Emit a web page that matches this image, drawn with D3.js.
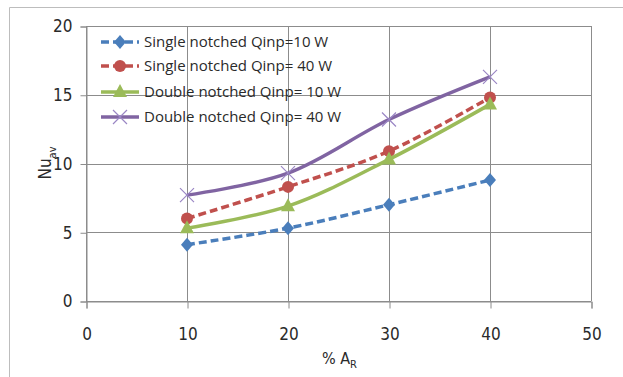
<!DOCTYPE html>
<html>
<head>
<meta charset="utf-8">
<script src="https://cdn.jsdelivr.net/npm/d3@7"></script>
<style>
  html, body { margin: 0; padding: 0; background: #fff; }
  svg { display: block; }
  text { font-family: "DejaVu Sans Condensed", "Open Sans", Arial, sans-serif; fill: #2a2a2a; }
</style>
</head>
<body>
<svg id="chart" width="623" height="377"></svg>
<script>
// Area ratio (%) on the x axis
const areaRatio = [10, 20, 30, 40];
// Average Nusselt number per configuration
const singleQ10 = [4.1, 5.3, 7.0, 8.8];
const singleQ40 = [6.0, 8.3, 10.9, 14.8];
const doubleQ10 = [5.3, 6.9, 10.3, 14.3];
const doubleQ40 = [7.7, 9.3, 13.2, 16.3];
const seriesNames = [
  "Single notched Qinp=10 W",
  "Single notched Qinp= 40 W",
  "Double notched Qinp= 10 W",
  "Double notched Qinp= 40 W"
];
const xTicks = [0, 10, 20, 30, 40, 50];
const yTicks = [0, 5, 10, 15, 20];

const series = [
  { name: seriesNames[0], values: singleQ10, color: "#4a7ebb", dash: "8,4", marker: "diamond" },
  { name: seriesNames[1], values: singleQ40, color: "#c0504d", dash: "8,4", marker: "circle" },
  { name: seriesNames[2], values: doubleQ10, color: "#9bbb59", dash: null, marker: "triangle" },
  { name: seriesNames[3], values: doubleQ40, color: "#8064a2", dash: null, marker: "cross" }
];

const svg = d3.select("#chart");

// outer frame (top and left edges visible)
svg.append("path").attr("d", "M9.5,377 L9.5,7.5 L623,7.5")
  .attr("fill", "none").attr("stroke", "#bdbdbd").attr("stroke-width", 1);

const x = d3.scaleLinear().domain([0, 50]).range([86, 591]);
const y = d3.scaleLinear().domain([0, 20]).range([301, 26]);

// grid
const grid = svg.append("g").attr("stroke", "#8c8c8c").attr("stroke-width", 1);
grid.selectAll(".gx").data(xTicks).join("line")
  .attr("x1", d => Math.round(x(d)) + 0.5).attr("x2", d => Math.round(x(d)) + 0.5)
  .attr("y1", y(20)).attr("y2", y(0));
grid.selectAll(".gy").data(yTicks).join("line")
  .attr("x1", x(0)).attr("x2", x(50))
  .attr("y1", d => Math.round(y(d)) + 0.5).attr("y2", d => Math.round(y(d)) + 0.5);

// axes
const xAxis = svg.append("g").attr("transform", `translate(0.5,${Math.round(y(0)) + 0.5})`)
  .call(d3.axisBottom(x).tickValues(xTicks).tickSize(7).tickPadding(19));
const yAxis = svg.append("g").attr("transform", `translate(${Math.round(x(0)) + 0.5},0.5)`)
  .call(d3.axisLeft(y).tickValues(yTicks).tickSize(6).tickPadding(8));
[xAxis, yAxis].forEach(g => {
  g.select(".domain").attr("stroke", "#8c8c8c");
  g.selectAll(".tick line").attr("stroke", "#8c8c8c");
  g.selectAll(".tick text").style("font-size", "17px").attr("fill", "#333")
    .style("font-family", "'DejaVu Sans Condensed', 'Open Sans', Arial, sans-serif");
});

// axis titles
const yt = svg.append("text").attr("transform", `translate(51,163) rotate(-90)`)
  .attr("text-anchor", "middle").style("font-size", "17px");
yt.append("tspan").text("Nu");
yt.append("tspan").attr("dy", 5).style("font-size", "11px").text("av");

const xt = svg.append("text").attr("x", 322).attr("y", 364).style("font-size", "16px");
xt.append("tspan").text("% A");
xt.append("tspan").attr("dy", 4).style("font-size", "11px").text("R");

// lines
const line = d3.line()
  .x((d, i) => x(areaRatio[i]))
  .y(d => y(d))
  .curve(d3.curveCatmullRom.alpha(0.5));

function drawMarker(g, type, cx, cy, color) {
  if (type === "diamond") {
    g.append("path").attr("d", `M${cx},${cy - 7} L${cx + 6},${cy} L${cx},${cy + 7} L${cx - 6},${cy} Z`)
      .attr("fill", color);
  } else if (type === "circle") {
    g.append("circle").attr("cx", cx).attr("cy", cy).attr("r", 6).attr("fill", color);
  } else if (type === "triangle") {
    g.append("path").attr("d", `M${cx},${cy - 8} L${cx + 7},${cy + 5} L${cx - 7},${cy + 5} Z`)
      .attr("fill", color);
  } else if (type === "cross") {
    g.append("path").attr("d", `M${cx - 7},${cy - 7} L${cx + 7},${cy + 7} M${cx - 7},${cy + 7} L${cx + 7},${cy - 7}`)
      .attr("stroke", "#9a86c4").attr("stroke-width", 1.2).attr("fill", "none");
  }
}

const plot = svg.append("g");
series.forEach(s => {
  plot.append("path").datum(s.values)
    .attr("d", line)
    .attr("fill", "none")
    .attr("stroke", s.color)
    .attr("stroke-width", 3.5)
    .attr("stroke-dasharray", s.dash);
  s.values.forEach((v, i) => drawMarker(plot, s.marker, x(areaRatio[i]), y(v), s.color));
});

// legend
const legendY = [42, 66, 92, 117];
const lg = svg.append("g");
series.forEach((s, i) => {
  const ly = legendY[i];
  lg.append("line").attr("x1", 101).attr("x2", 139).attr("y1", ly).attr("y2", ly)
    .attr("stroke", s.color).attr("stroke-width", 3.5).attr("stroke-dasharray", s.dash);
  drawMarker(lg, s.marker, 120, ly, s.color);
  lg.append("text").attr("x", 144).attr("y", ly + 5)
    .style("font-family", "'Open Sans', Arial, sans-serif")
    .style("font-size", "15px").text(s.name);
});
</script>
</body>
</html>
